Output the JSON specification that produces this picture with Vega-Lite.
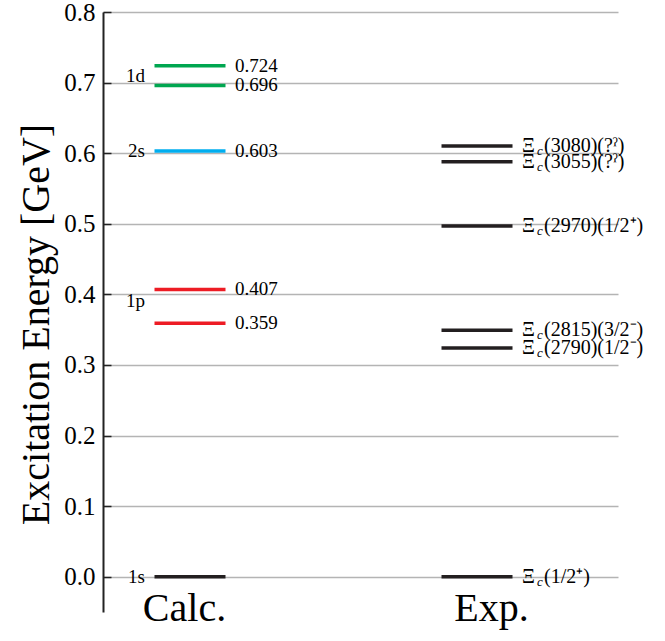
{
  "$schema": "https://vega.github.io/schema/vega-lite/v6.json",
  "width": 515,
  "height": 600,
  "autosize": "none",
  "padding": {"left": 103, "top": 12, "right": 47, "bottom": 29},
  "background": "white",
  "config": {"view": {"stroke": null}, "font": "Liberation Serif", "axis": {"labelFont": "Liberation Serif", "titleFont": "Liberation Serif"}, "text": {"font": "Liberation Serif"}},
  "datasets": {
    "levels": [
      {"group": "Calc", "energy": 0, "shell": "1s", "label": "", "rest": ""},
      {"group": "Calc", "energy": 0.359, "shell": "1p", "label": "0.359", "rest": ""},
      {"group": "Calc", "energy": 0.407, "shell": "1p", "label": "0.407", "rest": ""},
      {"group": "Calc", "energy": 0.603, "shell": "2s", "label": "0.603", "rest": ""},
      {"group": "Calc", "energy": 0.696, "shell": "1d", "label": "0.696", "rest": ""},
      {"group": "Calc", "energy": 0.724, "shell": "1d", "label": "0.724", "rest": ""},
      {"group": "Exp", "energy": 0, "shell": "exp", "label": "", "rest": "(1/2⁺)"},
      {"group": "Exp", "energy": 0.324, "shell": "exp", "label": "", "rest": "(2790)(1/2⁻)"},
      {"group": "Exp", "energy": 0.349, "shell": "exp", "label": "", "rest": "(2815)(3/2⁻)"},
      {"group": "Exp", "energy": 0.497, "shell": "exp", "label": "", "rest": "(2970)(1/2⁺)"},
      {"group": "Exp", "energy": 0.588, "shell": "exp", "label": "", "rest": "(3055)(?ˀ)"},
      {"group": "Exp", "energy": 0.61, "shell": "exp", "label": "", "rest": "(3080)(?ˀ)"}
    ],
    "shells": [
      {"group": "Calc", "energy": 0, "name": "1s"},
      {"group": "Calc", "energy": 0.39, "name": "1p"},
      {"group": "Calc", "energy": 0.603, "name": "2s"},
      {"group": "Calc", "energy": 0.71, "name": "1d"}
    ]
  },
  "data": {"name": "levels"},
  "encoding": {
    "x": {
      "field": "group",
      "type": "nominal",
      "scale": {"type": "point", "domain": ["Calc", "Exp"], "padding": 0.3972, "align": 0.3816},
      "axis": {
        "orient": "bottom",
        "domain": false,
        "ticks": false,
        "grid": false,
        "title": null,
        "labelAngle": 0,
        "labelFont": "Liberation Serif",
        "labelFontSize": 40,
        "labelColor": "black",
        "labelBaseline": "alphabetic",
        "labelPadding": 8,
        "labelExpr": "datum.value + '.'",
        "labelOffset": {"condition": {"test": "datum.value === 'Calc'", "value": -6}, "value": 14}
      }
    },
    "y": {
      "field": "energy",
      "type": "quantitative",
      "scale": {"domain": [-0.05, 0.8], "nice": false, "zero": false},
      "axis": {
        "values": [0, 0.1, 0.2, 0.3, 0.4, 0.5, 0.6, 0.7, 0.8],
        "format": ".1f",
        "grid": true,
        "gridColor": "#b4b4b4",
        "gridWidth": 1.5,
        "domainColor": "#222222",
        "domainWidth": 2,
        "tickColor": "#222222",
        "tickWidth": 1.5,
        "tickSize": -8,
        "labelPadding": 16,
        "labelFont": "Liberation Serif",
        "labelFontSize": 25,
        "labelColor": "black",
        "title": "Excitation Energy [GeV]",
        "titleFont": "Liberation Serif",
        "titleFontSize": 40,
        "titleFontWeight": "normal",
        "titleColor": "black",
        "titleAngle": -90,
        "titleX": -55,
        "titleY": 312,
        "titleAlign": "center",
        "titleBaseline": "alphabetic"
      }
    }
  },
  "layer": [
    {
      "mark": {"type": "tick", "orient": "horizontal", "size": 71, "thickness": 3.5, "opacity": 1},
      "encoding": {
        "color": {
          "field": "shell",
          "type": "nominal",
          "scale": {"domain": ["1s", "1p", "2s", "1d", "exp"], "range": ["#231f20", "#ed1c24", "#00aeef", "#00a650", "#231f20"]},
          "legend": null
        }
      }
    },
    {
      "transform": [{"filter": "datum.group === 'Calc' && datum.label !== ''"}],
      "mark": {"type": "text", "align": "left", "baseline": "middle", "dx": 45, "fontSize": 19, "color": "black"},
      "encoding": {"text": {"field": "label"}}
    },
    {
      "transform": [{"filter": "datum.group === 'Exp'"}],
      "mark": {"type": "text", "align": "left", "baseline": "middle", "dx": 45, "fontSize": 20, "color": "black"},
      "encoding": {"text": {"value": "Ξ"}}
    },
    {
      "transform": [{"filter": "datum.group === 'Exp'"}],
      "mark": {"type": "text", "align": "left", "baseline": "middle", "dx": 60, "dy": 5, "fontSize": 13, "fontStyle": "italic", "color": "black"},
      "encoding": {"text": {"value": "c"}}
    },
    {
      "transform": [{"filter": "datum.group === 'Exp'"}],
      "mark": {"type": "text", "align": "left", "baseline": "middle", "dx": 67, "fontSize": 20, "color": "black"},
      "encoding": {"text": {"field": "rest"}}
    },
    {
      "data": {"name": "shells"},
      "mark": {"type": "text", "align": "right", "baseline": "middle", "dx": -45, "fontSize": 19, "color": "black"},
      "encoding": {"text": {"field": "name"}}
    }
  ]
}
